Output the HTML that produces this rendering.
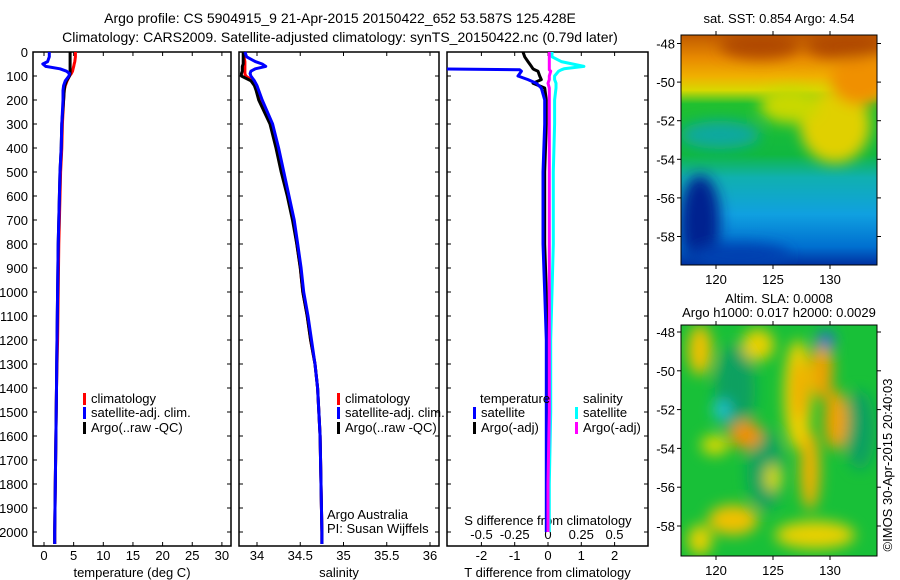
<!DOCTYPE html>
<html><head><meta charset="utf-8">
<style>
html,body{margin:0;padding:0;background:#fff;}
svg{display:block;font-family:"Liberation Sans",sans-serif;}
</style></head>
<body>
<svg id="fig" width="900" height="580" viewBox="0 0 900 580" xmlns="http://www.w3.org/2000/svg">
<defs>
<linearGradient id="sstg" x1="0" y1="0" x2="0" y2="1">
<stop offset="0" stop-color="#c05a00"/><stop offset="0.1" stop-color="#e88a00"/>
<stop offset="0.18" stop-color="#f0b000"/><stop offset="0.24" stop-color="#d8d800"/>
<stop offset="0.3" stop-color="#20c030"/><stop offset="0.52" stop-color="#10b840"/>
<stop offset="0.62" stop-color="#10b0b0"/><stop offset="0.78" stop-color="#10a0e0"/>
<stop offset="0.92" stop-color="#0070d0"/><stop offset="1" stop-color="#0030a0"/>
</linearGradient>
<filter id="bl" x="-50%" y="-50%" width="200%" height="200%"><feGaussianBlur stdDeviation="7"/></filter>
<clipPath id="c1"><rect x="681" y="35" width="196" height="230"/></clipPath>
<clipPath id="c2"><rect x="681" y="325" width="196" height="231"/></clipPath>
<clipPath id="c3"><rect x="447" y="52" width="201" height="494"/></clipPath>
</defs>
<g font-size="14" text-anchor="middle">
<text x="340" y="23">Argo profile: CS 5904915_9 21-Apr-2015 20150422_652 53.587S 125.428E</text>
<text x="340" y="42">Climatology: CARS2009. Satellite-adjusted climatology: synTS_20150422.nc (0.79d later)</text>
</g>
<g id="panels"></g>

<!-- SST map -->
<g>
<text x="779" y="23" font-size="13" text-anchor="middle">sat. SST: 0.854 Argo: 4.54</text>
<g clip-path="url(#c1)">
<rect x="681" y="35" width="196" height="230" fill="url(#sstg)"/>
<g filter="url(#bl)">
<ellipse cx="835" cy="125" rx="35" ry="38" fill="#e0d000"/>
<ellipse cx="790" cy="105" rx="30" ry="18" fill="#c8d800"/>
<ellipse cx="860" cy="80" rx="30" ry="25" fill="#f09000"/>
<ellipse cx="760" cy="45" rx="40" ry="14" fill="#b04800"/>
<ellipse cx="845" cy="45" rx="40" ry="14" fill="#b04800"/>
<ellipse cx="700" cy="220" rx="20" ry="45" fill="#002090"/>
<ellipse cx="740" cy="255" rx="50" ry="12" fill="#0040b0"/>
<ellipse cx="720" cy="135" rx="40" ry="14" fill="#10a8a0"/>
</g>
</g>
<rect x="681" y="35" width="196" height="230" fill="none" stroke="#000" stroke-width="1"/>
</g>
<!-- SLA map -->
<g>
<text x="779" y="303" font-size="13" text-anchor="middle">Altim. SLA: 0.0008</text>
<text x="779" y="317" font-size="13" text-anchor="middle">Argo h1000: 0.017 h2000: 0.0029</text>
<g clip-path="url(#c2)">
<rect x="681" y="325" width="196" height="231" fill="#18c038"/>
<g filter="url(#bl)">
<ellipse cx="735" cy="390" rx="20" ry="45" fill="#10a060"/>
<ellipse cx="765" cy="470" rx="18" ry="40" fill="#10a060"/>
<ellipse cx="860" cy="430" rx="15" ry="40" fill="#10a060"/>
<ellipse cx="798" cy="395" rx="14" ry="55" fill="#f0d000"/>
<ellipse cx="800" cy="390" rx="7" ry="30" fill="#f0a800"/>
<ellipse cx="822" cy="370" rx="11" ry="30" fill="#f0a000"/>
<ellipse cx="836" cy="420" rx="12" ry="30" fill="#f0a000"/>
<ellipse cx="810" cy="470" rx="10" ry="40" fill="#f0b000"/>
<ellipse cx="746" cy="435" rx="16" ry="14" fill="#f09000"/>
<ellipse cx="700" cy="350" rx="12" ry="25" fill="#f0c000"/>
<ellipse cx="758" cy="345" rx="16" ry="16" fill="#e8d000"/>
<ellipse cx="815" cy="535" rx="40" ry="14" fill="#e8d000"/>
<ellipse cx="733" cy="520" rx="25" ry="15" fill="#f0c000"/>
<ellipse cx="700" cy="540" rx="12" ry="15" fill="#e8d000"/>
<ellipse cx="715" cy="445" rx="14" ry="10" fill="#d8d800"/>
<ellipse cx="773" cy="478" rx="8" ry="14" fill="#d8d800"/>
<ellipse cx="826" cy="340" rx="9" ry="9" fill="#2070d0"/>
<ellipse cx="722" cy="410" rx="9" ry="10" fill="#20c0d0"/>
</g>
</g>
<rect x="681" y="325" width="196" height="231" fill="none" stroke="#000" stroke-width="1"/>
<text transform="translate(892,465) rotate(-90)" font-size="13" text-anchor="middle">©IMOS 30-Apr-2015 20:40:03</text>
</g>
<g id="mapaxes"></g>

<script>
// ---- data ----
const depths = [0,20,40,50,60,70,80,90,100,120,140,160,200,300,400,500,600,700,800,900,1000,1100,1200,1300,1400,1600,1800,2000,2050];
const tempClim = [5.3,5.3,5.2,5.1,5.0,4.9,4.8,4.6,4.3,3.9,3.6,3.4,3.3,3.1,3.0,2.8,2.7,2.6,2.5,2.45,2.4,2.35,2.3,2.2,2.1,2.0,1.9,1.8,1.8];
const tempArgo = [4.4,4.4,4.4,4.4,4.4,4.4,4.4,4.4,4.3,3.8,3.5,3.4,3.3,3.0,2.9,2.7,2.6,2.5,2.4,2.35,2.3,2.25,2.2,2.15,2.1,2.0,1.9,1.8,1.8];
const tempSat  = [0.9,0.9,0.6,-0.2,0.3,2.7,3.8,4.3,4.2,3.6,3.3,3.2,3.2,3.0,2.9,2.7,2.6,2.5,2.4,2.35,2.3,2.25,2.2,2.15,2.1,2.0,1.9,1.8,1.8];
const salClim = [33.85,33.85,33.86,33.86,33.86,33.86,33.86,33.86,33.87,33.95,33.99,34.0,34.04,34.16,34.23,34.29,34.36,34.42,34.46,34.5,34.53,34.58,34.62,34.67,34.7,34.73,34.74,34.75,34.75];
const salArgo = [33.84,33.84,33.84,33.84,33.83,33.83,33.83,33.82,33.82,33.93,33.97,33.99,34.02,34.15,34.22,34.28,34.35,34.41,34.46,34.5,34.53,34.58,34.62,34.67,34.7,34.73,34.74,34.75,34.75];
const salSat  = [33.86,33.88,33.98,34.06,34.1,33.98,33.93,33.92,33.93,33.97,34.0,34.02,34.06,34.18,34.25,34.31,34.37,34.43,34.47,34.51,34.54,34.59,34.63,34.67,34.7,34.73,34.74,34.75,34.75];
const diffDepths = [0,20,40,60,70,74,80,100,115,130,150,200,300,500,800,1000,1200,1500,1800,2000];
const tDiffSat  = [-3.5,-3.5,-3.5,-3.5,-3.5,-0.85,-0.8,-0.9,-0.6,-0.35,-0.2,-0.1,-0.1,-0.15,-0.15,-0.1,-0.05,-0.05,-0.05,-0.05];
const tDiffArgo = [-0.75,-0.7,-0.6,-0.5,-0.45,-0.4,-0.3,-0.25,-0.2,-0.45,-0.1,-0.05,-0.05,-0.1,-0.1,-0.05,-0.03,-0.03,-0.03,-0.03];
const sDiffSat  = [0.03,0.03,0.1,0.27,0.12,0.1,0.08,0.05,0.05,0.06,0.06,0.05,0.05,0.04,0.04,0.03,0.02,0.02,0.01,0.01];
const sDiffArgo = [0.01,0.01,0.01,0.01,0.01,0.01,0.02,0.01,0.01,0.0,0.01,0.01,0.01,0.01,0.01,0.01,0.01,0.01,0.0,0.0];
const depthTicks = [0,100,200,300,400,500,600,700,800,900,1000,1100,1200,1300,1400,1500,1600,1700,1800,1900,2000];
const tempTicks = [0,5,10,15,20,25,30];
const salTicks = [34,34.5,35,35.5,36];
const tDiffTicks = [-2,-1,0,1,2];
const sDiffTicks = [-0.5,-0.25,0,0.25,0.5];
const latTicks = [-48,-50,-52,-54,-56,-58];
const lonTicks = [120,125,130];

const NS='http://www.w3.org/2000/svg';
const yD = d => 52 + d*0.24;
const xT = t => 44 + t*5.93;
const xS = s => 257 + (s-34)*86.5;
const xTD = t => 548 + t*33.3;
const xSD = s => 548 + s*133;
const yLat1 = l => 43.5 + (-48-l)*19.3;
const yLat2 = l => 332 + (-48-l)*19.4;
const xLon = l => 716 + (l-120)*11.4;
const P = document.getElementById('panels');
function mk(tag, attrs, parent){const e=document.createElementNS(NS,tag);for(const k in attrs)e.setAttribute(k,attrs[k]);(parent||P).appendChild(e);return e;}
function fmt(v){return String(v);}

function frame(x0,x1,name,xticks,xf,xlabel,ticksY,titleY){
  const r=mk('rect',{x:x0,y:52,width:x1-x0,height:494,fill:'none',stroke:'#000','stroke-width':1.5});
  
  
  depthTicks.forEach(d=>{
    mk('line',{x1:x0,x2:x0+4,y1:yD(d),y2:yD(d),stroke:'#000'});
    mk('line',{x1:x1-4,x2:x1,y1:yD(d),y2:yD(d),stroke:'#000'});
  });
  xticks.forEach(v=>{
    const x=xf(v);
    mk('line',{x1:x,x2:x,y1:546,y2:542,stroke:'#000'});
    mk('line',{x1:x,x2:x,y1:52,y2:56,stroke:'#000'});
    const t=mk('text',{x:x,y:ticksY,'font-size':13,'text-anchor':'middle'});t.textContent=fmt(v);
    
    
  });
  const t=mk('text',{x:(x0+x1)/2,y:titleY,'font-size':13,'text-anchor':'middle'});t.textContent=xlabel;
  
  
}
function line(xs,ds,xf,color,name,parent){
  const pts=xs.map((v,i)=>xf(v).toFixed(1)+','+yD(ds[i]).toFixed(1)).join(' ');
  const l=mk('polyline',{points:pts,fill:'none',stroke:color,'stroke-width':3,'stroke-linejoin':'round'},parent);
  
  
}
function legend(x,y,color,label,name){
  mk('rect',{x:x,y:y-10,width:3,height:12,fill:color});
  const t=mk('text',{x:x+8,y:y,'font-size':13});t.textContent=label;
  
  
}

depthTicks.forEach(d=>{
  const t=mk('text',{x:28,y:yD(d)+5,'font-size':13,'text-anchor':'end'});t.textContent=d;
  
  
});

// Panel 1 temperature
frame(33,231,'temperature-panel',tempTicks,xT,'temperature (deg C)',560,577);
line(tempClim,depths,xT,'#f00','temp-climatology-line');
line(tempArgo,depths,xT,'#000','temp-argo-line');
line(tempSat,depths,xT,'#00f','temp-satellite-line');
legend(83,403,'#f00','climatology','temp-legend-climatology');
legend(83,417,'#00f','satellite-adj. clim.','temp-legend-satellite');
legend(83,432,'#000','Argo(..raw -QC)','temp-legend-argo');

// Panel 2 salinity
frame(239,439,'salinity-panel',salTicks,xS,'salinity',560,577);
line(salClim,depths,xS,'#f00','sal-climatology-line');
line(salArgo,depths,xS,'#000','sal-argo-line');
line(salSat,depths,xS,'#00f','sal-satellite-line');
legend(337,403,'#f00','climatology','sal-legend-climatology');
legend(337,417,'#00f','satellite-adj. clim.','sal-legend-satellite');
legend(337,432,'#000','Argo(..raw -QC)','sal-legend-argo');
[['Argo Australia',519],['PI: Susan Wijffels',533]].forEach(a=>{
  const t=mk('text',{x:327,y:a[1],'font-size':13});t.textContent=a[0];
  
  
});

// Panel 3 differences
frame(447,648,'difference-panel',tDiffTicks,xTD,'T difference from climatology',560,577);
sDiffTicks.forEach(v=>{
  const t=mk('text',{x:xSD(v),y:539,'font-size':13,'text-anchor':'middle'});t.textContent=fmt(v);
  
  
});
{const t=mk('text',{x:548,y:525,'font-size':13,'text-anchor':'middle'});t.textContent='S difference from climatology';
 
 }
const G3=mk('g',{'clip-path':'url(#c3)'});
line(sDiffSat,diffDepths,xSD,'#00ffff','s-diff-satellite-line',G3);
line(tDiffArgo,diffDepths,xTD,'#000','t-diff-argo-line',G3);
line(tDiffSat,diffDepths,xTD,'#00f','t-diff-satellite-line',G3);
line(sDiffArgo,diffDepths,xSD,'#ff00ff','s-diff-argo-line',G3);
{const t=mk('text',{x:480,y:403,'font-size':13});t.textContent='temperature';
 
 }
{const t=mk('text',{x:583,y:403,'font-size':13});t.textContent='salinity';
 
 }
legend(473,417,'#00f','satellite','diff-legend-t-satellite');
legend(473,432,'#000','Argo(-adj)','diff-legend-t-argo');
legend(575,417,'#00ffff','satellite','diff-legend-s-satellite');
legend(575,432,'#ff00ff','Argo(-adj)','diff-legend-s-argo');

// map axes
const M=document.getElementById('mapaxes');
function mapAxes(y0,y1,yl,name){
  latTicks.forEach(l=>{
    const y=yl(l);
    mk('line',{x1:681,x2:677,y1:y,y2:y,stroke:'#000'},M);
    mk('line',{x1:877,x2:881,y1:y,y2:y,stroke:'#000'},M);
    const t=mk('text',{x:675,y:y+5,'font-size':13,'text-anchor':'end'},M);t.textContent=l;
    
    
  });
  lonTicks.forEach(l=>{
    const x=xLon(l);
    mk('line',{x1:x,x2:x,y1:y1,y2:y1+4,stroke:'#000'},M);
    mk('line',{x1:x,x2:x,y1:y0,y2:y0-4,stroke:'#000'},M);
    const t=mk('text',{x:x,y:y1+19,'font-size':13,'text-anchor':'middle'},M);t.textContent=l;
    
    
  });
}
mapAxes(35,265,yLat1,'sst-map');
mapAxes(325,556,yLat2,'sla-map');
</script>
</svg>
</body></html>
